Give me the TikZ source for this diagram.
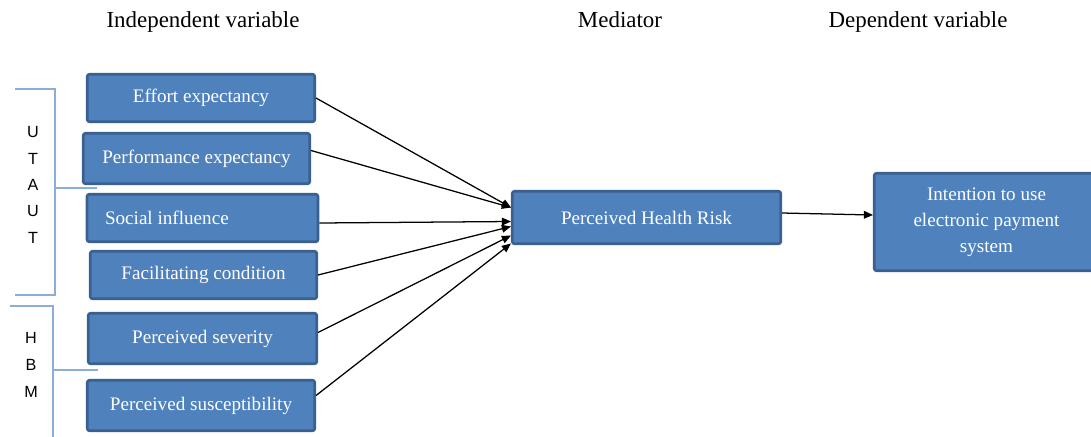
\documentclass[tikz,border=0pt]{standalone}
\usepackage{fontspec}
\setmainfont{Liberation Serif}
\newfontfamily\letterfont{Liberation Sans}
\usetikzlibrary{arrows.meta,calc}
\definecolor{boxblue}{HTML}{4F81BD}
\definecolor{boxedge}{HTML}{3A6090}
\definecolor{bracketblue}{HTML}{8AAEDA}
\begin{document}
\begin{tikzpicture}[x=0.025cm,y=-0.025cm,
	var/.style 2 args={draw=boxedge,fill=boxblue,line width=1.8pt,rounded corners=1.5pt,text=white,
		font=\fontsize{13.6}{18.5}\selectfont,align=center,inner sep=0pt,
		minimum width=(#1-2.5)*0.025cm,minimum height=(#2-2.5)*0.025cm},
	head/.style={font=\fontsize{16.3}{19}\selectfont,anchor=base},
	letter/.style={font=\letterfont\fontsize{11.5}{13}\selectfont},
	bracket/.style={draw=bracketblue,line width=1.1pt},
	link/.style={draw,line width=0.9pt,-{Triangle[length=6.5pt,width=5.5pt]}}]
\useasboundingbox (0,0) rectangle (1091,436);
\node[head] (ivhead) at (203,27) {Independent variable};
\node[head] (medhead) at (620,27) {Mediator};
\node[head] (dvhead) at (918,27) {Dependent variable};
\node[var={230}{50}] (ee) at (201,98) {Effort expectancy};
\node[var={229}{53}] (pe) at (196.5,158.5) {Performance expectancy};
\node[var={231}{50},text width=195*0.025cm,align=flush left,inner xsep=18*0.025cm] (si) at (202.5,218) {Social influence};
\node[var={229}{50}] (fc) at (203.5,275) {Facilitating condition};
\node[var={231}{53}] (ps) at (202.5,338.5) {Perceived severity};
\node[var={230}{53}] (pu) at (201,405.5) {Perceived susceptibility};
\node[var={271}{55}] (med) at (646.5,217.5) {Perceived Health Risk};
\node[var={227}{100}] (dv) at (986.5,222) {Intention to use\\electronic payment\\system};
\draw[bracket] (15,89) -- (55,89) -- (55,295) -- (15,295);
\draw[bracket] (55,188) -- (97,188);
\draw[bracket] (10,306) -- (53,306) -- (53,440);
\draw[bracket] (53,370) -- (98,370);
\foreach \ch [count=\i] in {U,T,A,U,T} {
	\node[letter] (utaut\i) at (33,105.5+26.5*\i) {\ch};
}
\foreach \ch [count=\i] in {H,B,M} {
	\node[letter] (hbm\i) at (31,311+27*\i) {\ch};
}
\foreach \src/\a/\b in {ee/0/-10,pe/-8/-10,si/5/4,fc/0/9,ps/-6/18,pu/-10/26} {
	\draw[link] ($(\src.east)+(0,\a)$) -- ($(med.west)+(0,\b)$);
}
\draw[link] ($(med.east)+(0,-4.5)$) -- ($(dv.west)+(0,-7)$);
\end{tikzpicture}
\end{document}
